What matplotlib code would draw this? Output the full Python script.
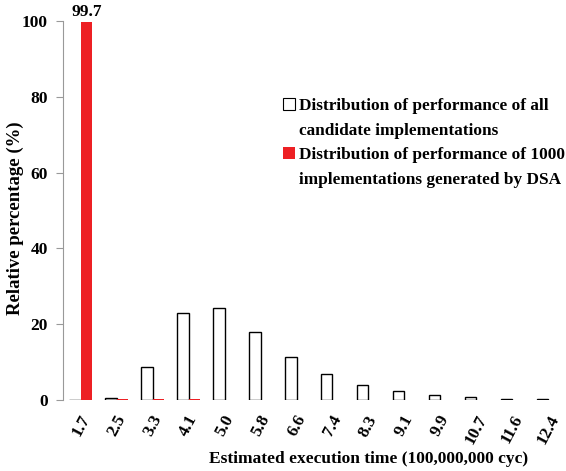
import matplotlib.pyplot as plt
from matplotlib.patches import Patch
import numpy as np

plt.rcParams['font.family'] = ['Liberation Serif', 'DejaVu Serif']
plt.rcParams['font.weight'] = 'bold'

# estimated execution time bins (100,000,000 cyc)
times = ['1.7', '2.5', '3.3', '4.1', '5.0', '5.8', '6.6', '7.4',
         '8.3', '9.1', '9.9', '10.7', '11.6', '12.4']
# relative percentage (%)
all_cands = [0.1, 0.6, 8.7, 22.9, 24.3, 17.9, 11.4, 6.8, 3.9, 2.3, 1.3, 0.8, 0.3, 0.2]
dsa = [99.7, 0.15, 0.2, 0.2, 0, 0, 0, 0, 0, 0, 0, 0, 0, 0]

red = '#ED2024'
fs = 12.5
x = np.arange(len(times))
w = 0.32

fig = plt.figure(figsize=(5.66, 4.71), dpi=100)
ax = fig.add_axes([0.1113, 0.1507, 0.8887, 0.8047])

ax.bar(x - w / 2, all_cands, w, facecolor='white', edgecolor='black', linewidth=1.0)
ax.bar(x + w / 2, dsa, w, color=red, linewidth=0)
ax.text(x[0] + w / 2, dsa[0] + 0.5, '99.7', ha='center', va='bottom',
        fontsize=fs, fontweight='bold')

ax.set_xlim(-0.5, len(times) - 0.5)
ax.set_ylim(0, 100)
ax.set_yticks([0, 20, 40, 60, 80, 100])
ax.set_xticks(x)
ax.set_xticklabels(times, rotation=62, ha='center', va='top')
ax.tick_params(axis='y', length=5, color='#999999', labelsize=fs, pad=6)
ax.tick_params(axis='x', length=0, labelsize=fs, pad=9)
for s in ['top', 'right', 'bottom']:
    ax.spines[s].set_visible(False)
ax.spines['left'].set_color('#999999')

ax.set_ylabel('Relative percentage (%)', fontsize=13.5, fontweight='bold')
ax.yaxis.set_label_coords(-0.077, 0.48)
ax.set_xlabel('Estimated execution time (100,000,000 cyc)', fontsize=fs,
              fontweight='bold')
ax.xaxis.set_label_coords(0.608, -0.135)

blank = Patch(facecolor='none', edgecolor='none')
handles = [Patch(facecolor='white', edgecolor='black', linewidth=0.8), blank,
           Patch(facecolor=red, edgecolor='none'), blank]
labels = ['Distribution of performance of all', 'candidate implementations',
          'Distribution of performance of 1000', 'implementations generated by DSA']
ax.legend(handles, labels, loc='upper left', bbox_to_anchor=(0.437, 0.797),
          frameon=False, fontsize=12.4, handlelength=0.7, handleheight=0.7,
          handletextpad=0.25, labelspacing=0.5, borderaxespad=0, borderpad=0)

fig.savefig('out.png', dpi=100)
